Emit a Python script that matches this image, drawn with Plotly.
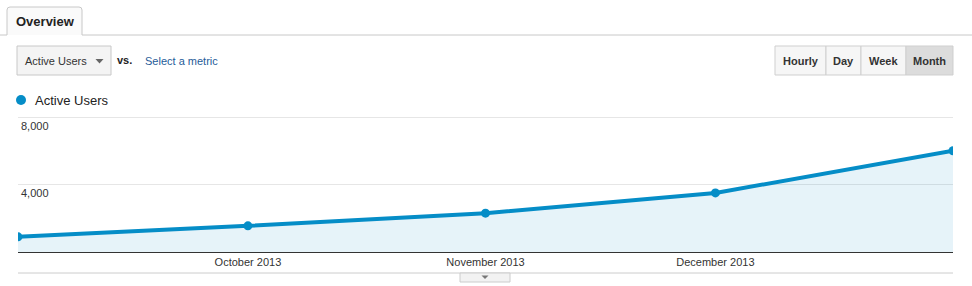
import plotly.graph_objects as go

# ---- data ----
months = ["2013-09-01", "2013-10-01", "2013-11-01", "2013-12-01", "2014-01-01"]
active_users = [900, 1550, 2300, 3500, 6000]
x_tick_vals = ["2013-10-01", "2013-11-01", "2013-12-01"]
x_tick_text = ["October 2013", "November 2013", "December 2013"]
y_tick_vals = [4000, 8000]
y_tick_text = ["4,000", "8,000"]
series_name = "Active Users"
period_buttons = ["Hourly", "Day", "Week", "Month"]

# ---- layout geometry (pixels) ----
W, H = 972, 286
ML, MR, MT, MB = 18, 19, 115, 34
PW = W - ML - MR
PH = H - MT - MB
Y_TOP = 8000 * PH / (PH - 2)   # put the 8,000 gridline 2px below the plot top
BLUE = "#058dc7"
FONT = "Liberation Sans, Arial, sans-serif"


def px(x):
    return (x - ML) / PW


def py(y):
    return (H - MB - y) / PH


fig = go.Figure()
fig.add_trace(go.Scatter(
    x=months, y=active_users, name=series_name, mode="lines+markers",
    line=dict(color=BLUE, width=4), marker=dict(color=BLUE, size=9),
    fill="tozeroy", fillcolor="rgba(5,141,199,0.10)", hoverinfo="x+y",
))

shapes = []
ann = []

# top rule and tab
shapes.append(dict(type="line", xref="paper", yref="paper", x0=px(0), x1=px(7), y0=py(35), y1=py(35),
                   line=dict(color="#c8c8c8", width=1)))
shapes.append(dict(type="line", xref="paper", yref="paper", x0=px(82), x1=px(972), y0=py(35), y1=py(35),
                   line=dict(color="#c8c8c8", width=1)))
shapes.append(dict(type="path", xref="paper", yref="paper",
                   path=f"M {px(7)},{py(35)} L {px(7)},{py(10)} Q {px(7)},{py(7)} {px(10)},{py(7)} "
                        f"L {px(79)},{py(7)} Q {px(82)},{py(7)} {px(82)},{py(10)} L {px(82)},{py(35)}",
                   line=dict(color="#c8c8c8", width=1), fillcolor="#fafafa"))
ann.append(dict(text="<b>Overview</b>", x=px(45), y=py(21), xanchor="center", yanchor="middle",
                font=dict(size=13, color="#222")))

# metric dropdown
shapes.append(dict(type="rect", xref="paper", yref="paper", x0=px(17), x1=px(111), y0=py(46), y1=py(75),
                   line=dict(color="#c8c8c8", width=1), fillcolor="#f4f4f4"))
ann.append(dict(text="Active Users", x=px(23), y=py(61), xanchor="left", yanchor="middle",
                font=dict(size=11, color="#333")))
shapes.append(dict(type="path", xref="paper", yref="paper",
                   path=f"M {px(95.5)},{py(59)} L {px(103.5)},{py(59)} L {px(99.5)},{py(63.5)} Z",
                   line=dict(width=0), fillcolor="#666"))
ann.append(dict(text="<b>vs.</b>", x=px(115), y=py(60), xanchor="left", yanchor="middle",
                font=dict(size=11, color="#222")))
ann.append(dict(text="Select a metric", x=px(143), y=py(61), xanchor="left", yanchor="middle",
                font=dict(size=11, color="#1f5c99")))

# period buttons
btn_edges = [775, 826, 861, 906, 953]
for i, label in enumerate(period_buttons):
    x0, x1 = btn_edges[i], btn_edges[i + 1]
    fill = "#dcdcdc" if label == "Month" else "#f6f6f6"
    shapes.append(dict(type="rect", xref="paper", yref="paper", x0=px(x0), x1=px(x1), y0=py(46), y1=py(75),
                       line=dict(color="#cfcfcf", width=1), fillcolor=fill))
    ann.append(dict(text=f"<b>{label}</b>", x=px((x0 + x1) / 2), y=py(61), xanchor="center", yanchor="middle",
                    font=dict(size=11, color="#333")))

# legend
shapes.append(dict(type="circle", xref="paper", yref="paper", x0=px(16), x1=px(26), y0=py(95), y1=py(105),
                   line=dict(width=0), fillcolor=BLUE))
ann.append(dict(text=series_name, x=px(33), y=py(100), xanchor="left", yanchor="middle",
                font=dict(size=13, color="#222")))

# bottom rule and handle
shapes.append(dict(type="line", xref="paper", yref="paper", x0=px(18), x1=px(953), y0=py(273), y1=py(273),
                   line=dict(color="#cccccc", width=1)))
shapes.append(dict(type="rect", xref="paper", yref="paper", x0=px(460), x1=px(510), y0=py(273), y1=py(282),
                   line=dict(color="#cccccc", width=1), fillcolor="#f2f2f2"))
shapes.append(dict(type="path", xref="paper", yref="paper",
                   path=f"M {px(481.5)},{py(275.5)} L {px(488.5)},{py(275.5)} L {px(485)},{py(279)} Z",
                   line=dict(width=0), fillcolor="#777"))

for a in ann:
    a.update(xref="paper", yref="paper", showarrow=False)

fig.update_layout(
    width=W, height=H, margin=dict(l=ML, r=MR, t=MT, b=MB, pad=0),
    paper_bgcolor="white", plot_bgcolor="white", showlegend=False,
    font=dict(family=FONT, size=11, color="#333"),
    shapes=shapes, annotations=ann,
    xaxis=dict(type="date", range=[months[0], months[-1]], tickvals=x_tick_vals, ticktext=x_tick_text,
               showgrid=False, showline=True, linecolor="#333", linewidth=1, ticks="", zeroline=False,
               tickfont=dict(size=11, color="#333"), fixedrange=True),
    yaxis=dict(range=[0, Y_TOP], tickvals=y_tick_vals, ticktext=y_tick_text, showgrid=True,
               gridcolor="#e6e6e6", gridwidth=1, zeroline=False, showline=False, ticks="",
               ticklabelposition="inside", ticklabelshift=9, ticklabelstandoff=0,
               tickfont=dict(size=11, color="#333"), fixedrange=True),
)

fig.write_html("out.html")
